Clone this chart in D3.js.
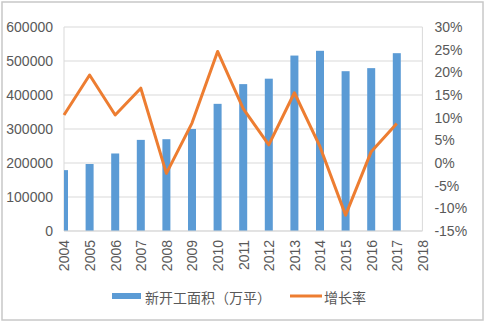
<!DOCTYPE html>
<html><head><meta charset="utf-8">
<script src="https://cdn.jsdelivr.net/npm/d3@7"></script>
<style>html,body{margin:0;padding:0;background:#fff;}</style>
</head><body>
<script>
const years = ["2004","2005","2006","2007","2008","2009","2010","2011","2012","2013","2014","2015","2016","2017","2018"];
const area = [179000,197000,228000,268000,270000,300000,374000,432000,448000,516000,530000,470000,479000,523000,null];
const growth = [10.6,19.4,10.6,16.5,-2.3,8.8,24.6,12.0,4.0,15.5,3.6,-11.5,2.5,8.7,null];
const leftTicks = [0,100000,200000,300000,400000,500000,600000];
const rightTicks = [-15,-10,-5,0,5,10,15,20,25,30];
const seriesNames = ["新开工面积（万平）","增长率"];

const W=486,H=323;
const L=64,R=422.4,T=27,B=231;
const font = "'Liberation Sans', Arial, sans-serif";
const cjk = "'Liberation Sans','Noto Sans CJK SC', sans-serif";
const svg = d3.select("body").append("svg").attr("width",W).attr("height",H);
svg.append("rect").attr("x",2).attr("y",2).attr("width",481).attr("height",318).attr("fill","#fff").attr("stroke","#c8c8c8").attr("stroke-width",1.5);

const x = d3.scalePoint().domain(years).range([L,R]);
const yL = d3.scaleLinear().domain([0,600000]).range([B,T]);
const yR = d3.scaleLinear().domain([-15,30]).range([B,T]);

// grid
svg.append("g").selectAll("line").data(leftTicks).join("line")
  .attr("x1",L).attr("x2",R).attr("y1",d=>yL(d)).attr("y2",d=>yL(d))
  .attr("stroke","#d9d9d9").attr("stroke-width",1);
svg.append("line").attr("x1",L).attr("x2",L).attr("y1",T).attr("y2",B).attr("stroke","#d9d9d9");
svg.append("line").attr("x1",R).attr("x2",R).attr("y1",T).attr("y2",B).attr("stroke","#d9d9d9");

svg.append("defs").append("clipPath").attr("id","clip").append("rect").attr("x",L).attr("y",T-5).attr("width",R-L).attr("height",B-T+5);

const bw=8;
svg.append("g").attr("clip-path","url(#clip)").selectAll("rect").data(years.map((y,i)=>({y,v:area[i]})).filter(d=>d.v!=null)).join("rect")
  .attr("x",d=>x(d.y)-bw/2).attr("width",bw).attr("y",d=>yL(d.v)).attr("height",d=>B-yL(d.v))
  .attr("fill","#5B9BD5");

// axes
const axL = d3.axisLeft(yL).tickValues(leftTicks).tickSize(0).tickPadding(11).tickFormat(d3.format("d"));
const gL = svg.append("g").attr("transform",`translate(${L},0)`).call(axL);
const axR = d3.axisRight(yR).tickValues(rightTicks).tickSize(0).tickPadding(12).tickFormat(d=>d+"%");
const gR = svg.append("g").attr("transform",`translate(${R},0)`).call(axR);
const axB = d3.axisBottom(x).tickSize(0).tickPadding(0);
const gB = svg.append("g").attr("transform",`translate(0,${B})`).call(axB);
[gL,gR,gB].forEach(g=>{g.select(".domain").remove();g.selectAll("text").attr("fill","#595959").style("font-family",font).style("font-size","14px");});
gB.selectAll("text").attr("transform","rotate(-90)").attr("text-anchor","end").attr("dy","0.35em").attr("x",-9).attr("y",0);
svg.append("line").attr("x1",L).attr("x2",R).attr("y1",B).attr("y2",B).attr("stroke","#d9d9d9");

// line
const pts = years.map((y,i)=>({y,v:growth[i]})).filter(d=>d.v!=null);
svg.append("path").datum(pts).attr("fill","none").attr("stroke","#ED7D31").attr("stroke-width",3).attr("stroke-linejoin","round")
  .attr("d",d3.line().x(d=>x(d.y)).y(d=>yR(d.v)));

// legend
const lg = svg.append("g");
lg.append("rect").attr("x",112).attr("y",293).attr("width",29).attr("height",6).attr("fill","#5B9BD5");
lg.append("text").attr("x",145).attr("y",298).attr("dy","0.35em").text(seriesNames[0]).attr("fill","#595959").style("font-family",cjk).style("font-size","14px");
lg.append("line").attr("x1",290).attr("x2",322).attr("y1",296).attr("y2",296).attr("stroke","#ED7D31").attr("stroke-width",3);
lg.append("text").attr("x",324).attr("y",298).attr("dy","0.35em").text(seriesNames[1]).attr("fill","#595959").style("font-family",cjk).style("font-size","14px");
</script>
</body></html>
